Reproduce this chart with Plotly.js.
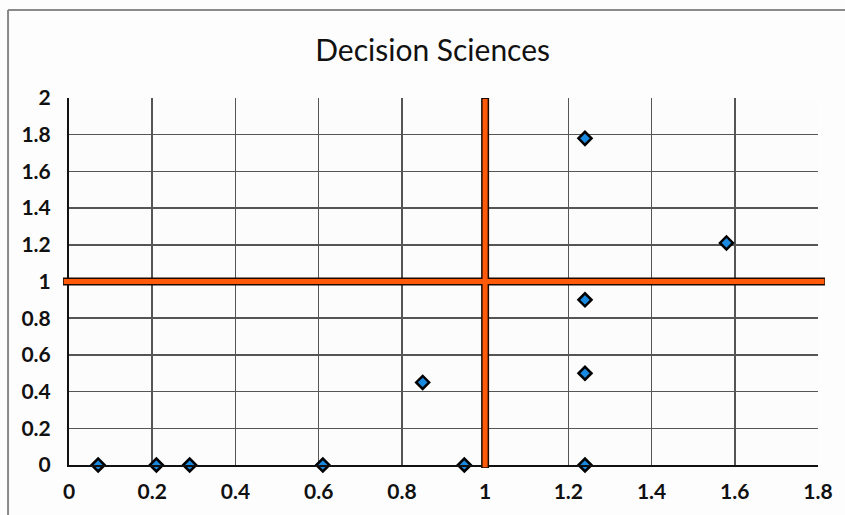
<!DOCTYPE html>
<html>
<head>
<meta charset="utf-8">
<script src="https://cdn.plot.ly/plotly-3.0.1.min.js"></script>
<style>html,body{margin:0;padding:0;background:#fdfdfd;}#chart{width:845px;height:515px;}</style>
</head>
<body>
<div id="chart"></div>
<script>
// Data
var pointX = [0.07, 0.21, 0.29, 0.61, 0.95, 1.24, 0.85, 1.24, 1.24, 1.24, 1.58];
var pointY = [0, 0, 0, 0, 0, 0, 0.45, 0.5, 0.9, 1.78, 1.21];
var thresholdX = 1;
var thresholdY = 1;
var xTickVals = [0, 0.2, 0.4, 0.6, 0.8, 1, 1.2, 1.4, 1.6, 1.8];
var xTickText = ['0', '0.2', '0.4', '0.6', '0.8', '1', '1.2', '1.4', '1.6', '1.8'];
var yTickVals = [0, 0.2, 0.4, 0.6, 0.8, 1, 1.2, 1.4, 1.6, 1.8, 2];
var yTickText = ['0', '0.2', '0.4', '0.6', '0.8', '1', '1.2', '1.4', '1.6', '1.8', '2'];

var orange = '#ff5a0a';
var tickFont = {family: 'Lato, "Open Sans", sans-serif', size: 21, color: '#111', weight: 'bold'};

var trace = {
  type: 'scatter', mode: 'markers', x: pointX, y: pointY,
  cliponaxis: false,
  marker: {symbol: 'diamond', size: 10, color: '#1a8ae0', line: {color: '#000', width: 2.5}},
  hoverinfo: 'x+y'
};

var shapes = [
  // image frame lines
  {type: 'line', xref: 'paper', yref: 'paper', x0: -0.0814, x1: 1.04, y0: 1.2398, y1: 1.2398, line: {color: '#8a8a8a', width: 2}, layer: 'below'},
  {type: 'line', xref: 'paper', yref: 'paper', x0: -0.0814, x1: -0.0814, y0: 1.2398, y1: -0.15, line: {color: '#8a8a8a', width: 2}, layer: 'below'},
  // threshold lines: black outline then orange
  {type: 'line', xref: 'paper', yref: 'y', x0: -0.008, x1: 1.0093, y0: thresholdY, y1: thresholdY, line: {color: '#1a0a00', width: 8}},
  {type: 'line', xref: 'x', yref: 'paper', x0: thresholdX, x1: thresholdX, y0: -0.008, y1: 1.0, line: {color: '#1a0a00', width: 8}},
  {type: 'line', xref: 'paper', yref: 'y', x0: -0.007, x1: 1.0085, y0: thresholdY, y1: thresholdY, line: {color: orange, width: 5}},
  {type: 'line', xref: 'x', yref: 'paper', x0: thresholdX, x1: thresholdX, y0: -0.006, y1: 0.997, line: {color: orange, width: 5}}
];

var layout = {
  width: 845, height: 515,
  margin: {l: 69, r: 27, t: 98, b: 50},
  paper_bgcolor: '#fdfdfd',
  plot_bgcolor: '#fcfcfc',
  showlegend: false,
  title: {text: 'Decision Sciences', xref: 'container', x: 0.512, xanchor: 'center', y: 0.902, yanchor: 'middle',
          font: {family: 'Lato, "Open Sans", sans-serif', size: 30, color: '#111'}},
  xaxis: {
    range: [0, 1.8], tickvals: xTickVals, ticktext: xTickText,
    showgrid: true, gridcolor: '#555', gridwidth: 1.5,
    zeroline: false, showline: true, linecolor: '#111', linewidth: 2, mirror: false,
    ticks: '', tickfont: tickFont, ticklabelstandoff: 7, fixedrange: true
  },
  yaxis: {
    range: [0, 2], tickvals: yTickVals, ticktext: yTickText,
    showgrid: true, gridcolor: '#555', gridwidth: 1.5,
    zeroline: false, showline: true, linecolor: '#111', linewidth: 2,
    ticks: '', tickfont: tickFont, ticklabelstandoff: 12, fixedrange: true
  },
  shapes: shapes
};

Plotly.newPlot('chart', [trace], layout, {displayModeBar: false, staticPlot: true});
</script>
</body>
</html>
